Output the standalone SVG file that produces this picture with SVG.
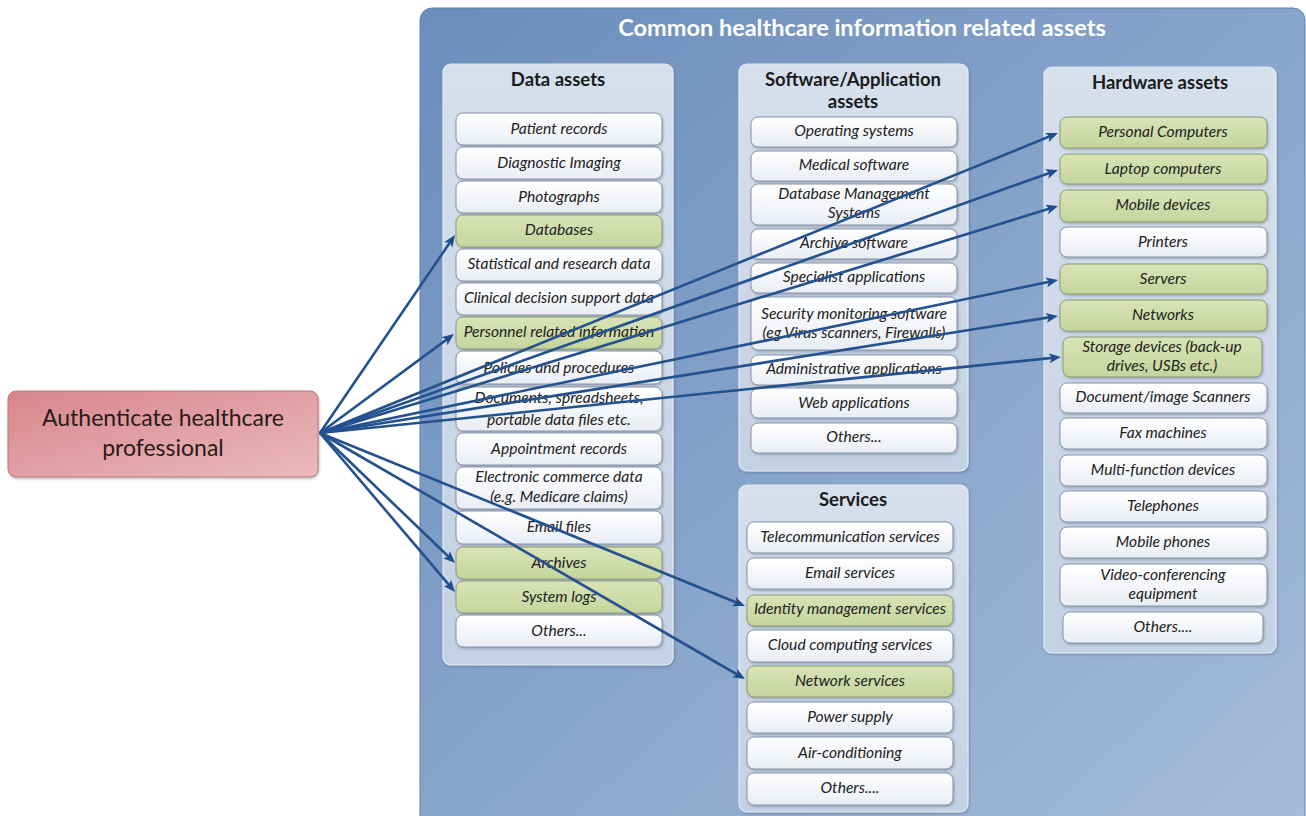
<svg xmlns="http://www.w3.org/2000/svg" width="1306" height="816" viewBox="0 0 1306 816">
  <defs>
    <linearGradient id="gOuter" x1="0" y1="0" x2="1" y2="1">
      <stop offset="0" stop-color="#6a8dbc"/>
      <stop offset="1" stop-color="#a6bcd9"/>
    </linearGradient>
    <linearGradient id="gPanel" x1="0" y1="0" x2="0" y2="1">
      <stop offset="0" stop-color="#d6e0ed"/>
      <stop offset="1" stop-color="#c3d1e4"/>
    </linearGradient>
    <linearGradient id="gItem" x1="0" y1="0" x2="0" y2="1">
      <stop offset="0" stop-color="#ffffff"/>
      <stop offset="1" stop-color="#e9edf4"/>
    </linearGradient>
    <linearGradient id="gGreen" x1="0" y1="0" x2="0" y2="1">
      <stop offset="0" stop-color="#d9e3b6"/>
      <stop offset="1" stop-color="#c6d59d"/>
    </linearGradient>
    <linearGradient id="gSource" x1="0" y1="0" x2="1" y2="1">
      <stop offset="0" stop-color="#d7868b"/>
      <stop offset="1" stop-color="#ebbabd"/>
    </linearGradient>
    <filter id="shadow" x="-10%" y="-20%" width="120%" height="150%">
      <feDropShadow dx="1" dy="1.5" stdDeviation="1" flood-color="#3a4a60" flood-opacity="0.35"/>
    </filter>
    <marker id="arrow" viewBox="0 0 12 10" refX="6" refY="5" markerWidth="12" markerHeight="10" markerUnits="userSpaceOnUse" orient="auto">
      <path d="M0,0 L12,5 L0,10 L3,5 Z" fill="#1f4d8a"/>
    </marker>
  </defs>
  <style>
    .outer { fill: url(#gOuter); stroke: #5f80ad; stroke-width: 1; }
    .panel { fill: url(#gPanel); stroke: #e4ebf4; stroke-width: 1.2; filter: url(#shadow); }
    .item { fill: url(#gItem); stroke: #8593a6; stroke-width: 1; filter: url(#shadow); }
    .hit { fill: url(#gGreen); stroke: #8c9a73; stroke-width: 1; filter: url(#shadow); }
    .txt { font-family: Lato, "Open Sans", sans-serif; font-style: italic; font-size: 15.6px; fill: #222222; text-anchor: middle; }
    .ptitle { font-family: Lato, "Open Sans", sans-serif; font-weight: bold; font-size: 18.5px; fill: #1b1b1b; text-anchor: middle; }
    .title { font-family: Lato, "Open Sans", sans-serif; font-weight: bold; font-size: 23.5px; fill: #ffffff; text-anchor: middle; }
    .src { fill: url(#gSource); stroke: #b87a7e; stroke-width: 1; filter: url(#shadow); }
    .srctxt { font-family: Lato, "Open Sans", sans-serif; font-size: 23px; fill: #2a1a1a; text-anchor: middle; }
    .conn { stroke: #24528f; stroke-width: 2.6; fill: none; marker-end: url(#arrow); }
  </style>

  <!-- container of all asset categories -->
  <g id="assets-container">
    <rect class="outer" x="420" y="8" width="885" height="820" rx="12"/>
    <text class="title" x="862" y="36">Common healthcare information related assets</text>
  </g>

  <!-- source node -->
  <g id="authenticate">
    <rect class="src" x="8" y="391" width="310" height="86" rx="8"/>
    <text class="srctxt" x="163" y="426">Authenticate healthcare</text>
    <text class="srctxt" x="163" y="456">professional</text>
  </g>

  <!-- data assets -->
  <g id="data-assets">
    <rect class="panel" x="443" y="64" width="230" height="601" rx="8"/>
    <text class="ptitle" x="558" y="86">Data assets</text>
    <g id="d-patient"><rect class="item" x="456" y="113" width="206" height="32" rx="7"/><text class="txt" x="559" y="134">Patient records</text></g>
    <g id="d-imaging"><rect class="item" x="456" y="147" width="206" height="32" rx="7"/><text class="txt" x="559" y="168">Diagnostic Imaging</text></g>
    <g id="d-photos"><rect class="item" x="456" y="181" width="206" height="32" rx="7"/><text class="txt" x="559" y="202">Photographs</text></g>
    <g id="d-databases"><rect class="hit" x="456" y="215" width="206" height="32" rx="7"/><text class="txt" x="559" y="235">Databases</text></g>
    <g id="d-stats"><rect class="item" x="456" y="249" width="206" height="32" rx="7"/><text class="txt" x="559" y="269">Statistical and research data</text></g>
    <g id="d-clinical"><rect class="item" x="456" y="283" width="206" height="32" rx="7"/><text class="txt" x="559" y="303">Clinical decision support data</text></g>
    <g id="d-personnel"><rect class="hit" x="456" y="317" width="206" height="32" rx="7"/><text class="txt" x="559" y="337">Personnel related information</text></g>
    <g id="d-policies"><rect class="item" x="456" y="351" width="206" height="33" rx="7"/><text class="txt" x="559" y="373">Policies and procedures</text></g>
    <g id="d-documents"><rect class="item" x="456" y="387" width="206" height="44" rx="7"/><text class="txt" x="559" y="403">Documents, spreadsheets,</text><text class="txt" x="559" y="425">portable data files etc.</text></g>
    <g id="d-appointments"><rect class="item" x="456" y="433" width="206" height="32" rx="7"/><text class="txt" x="559" y="454">Appointment records</text></g>
    <g id="d-ecommerce"><rect class="item" x="456" y="467" width="206" height="42" rx="7"/><text class="txt" x="559" y="482">Electronic commerce data</text><text class="txt" x="559" y="502">(e.g. Medicare claims)</text></g>
    <g id="d-email"><rect class="item" x="456" y="511" width="206" height="33" rx="7"/><text class="txt" x="559" y="532">Email files</text></g>
    <g id="d-archives"><rect class="hit" x="456" y="547" width="206" height="32" rx="7"/><text class="txt" x="559" y="568">Archives</text></g>
    <g id="d-syslogs"><rect class="hit" x="456" y="581" width="206" height="32" rx="7"/><text class="txt" x="559" y="602">System logs</text></g>
    <g id="d-others"><rect class="item" x="456" y="615" width="206" height="32" rx="7"/><text class="txt" x="559" y="636">Others...</text></g>
  </g>

  <!-- software / application assets -->
  <g id="software-assets">
    <rect class="panel" x="739" y="64" width="229" height="407" rx="8"/>
    <text class="ptitle" x="853" y="86">Software/Application</text>
    <text class="ptitle" x="853" y="108">assets</text>
    <g id="s-os"><rect class="item" x="751" y="117" width="206" height="30" rx="7"/><text class="txt" x="854" y="136">Operating systems</text></g>
    <g id="s-medical"><rect class="item" x="751" y="151" width="206" height="30" rx="7"/><text class="txt" x="854" y="170">Medical software</text></g>
    <g id="s-dbms"><rect class="item" x="751" y="184" width="206" height="41" rx="7"/><text class="txt" x="854" y="199">Database Management</text><text class="txt" x="854" y="218">Systems</text></g>
    <g id="s-archive"><rect class="item" x="751" y="229" width="206" height="30" rx="7"/><text class="txt" x="854" y="248">Archive software</text></g>
    <g id="s-specialist"><rect class="item" x="751" y="263" width="206" height="30" rx="7"/><text class="txt" x="854" y="282">Specialist applications</text></g>
    <g id="s-security"><rect class="item" x="751" y="297" width="206" height="53" rx="7"/><text class="txt" x="854" y="319">Security monitoring  software</text><text class="txt" x="854" y="338">(eg Virus scanners, Firewalls)</text></g>
    <g id="s-admin"><rect class="item" x="751" y="355" width="206" height="30" rx="7"/><text class="txt" x="854" y="374">Administrative applications</text></g>
    <g id="s-web"><rect class="item" x="751" y="388" width="206" height="30" rx="7"/><text class="txt" x="854" y="408">Web applications</text></g>
    <g id="s-others"><rect class="item" x="751" y="423" width="206" height="30" rx="7"/><text class="txt" x="854" y="442">Others...</text></g>
  </g>

  <!-- services -->
  <g id="services">
    <rect class="panel" x="739" y="485" width="229" height="327" rx="8"/>
    <text class="ptitle" x="853" y="506">Services</text>
    <g id="v-telecom"><rect class="item" x="747" y="522" width="206" height="31" rx="7"/><text class="txt" x="850" y="542">Telecommunication services</text></g>
    <g id="v-email"><rect class="item" x="747" y="558" width="206" height="31" rx="7"/><text class="txt" x="850" y="578">Email services</text></g>
    <g id="v-identity"><rect class="hit" x="747" y="595" width="206" height="31" rx="7"/><text class="txt" x="850" y="614">Identity management services</text></g>
    <g id="v-cloud"><rect class="item" x="747" y="630" width="206" height="32" rx="7"/><text class="txt" x="850" y="650">Cloud computing services</text></g>
    <g id="v-network"><rect class="hit" x="747" y="666" width="206" height="31" rx="7"/><text class="txt" x="850" y="686">Network services</text></g>
    <g id="v-power"><rect class="item" x="747" y="702" width="206" height="31" rx="7"/><text class="txt" x="850" y="722">Power supply</text></g>
    <g id="v-aircon"><rect class="item" x="747" y="737" width="206" height="32" rx="7"/><text class="txt" x="850" y="758">Air-conditioning</text></g>
    <g id="v-others"><rect class="item" x="747" y="773" width="206" height="32" rx="7"/><text class="txt" x="850" y="793">Others....</text></g>
  </g>

  <!-- hardware assets -->
  <g id="hardware-assets">
    <rect class="panel" x="1044" y="67" width="232" height="586" rx="8"/>
    <text class="ptitle" x="1160" y="89">Hardware assets</text>
    <g id="h-pc"><rect class="hit" x="1060" y="117" width="207" height="31" rx="7"/><text class="txt" x="1163" y="137">Personal Computers</text></g>
    <g id="h-laptop"><rect class="hit" x="1060" y="154" width="207" height="30" rx="7"/><text class="txt" x="1163" y="174">Laptop computers</text></g>
    <g id="h-mobile"><rect class="hit" x="1060" y="190" width="207" height="32" rx="7"/><text class="txt" x="1163" y="210">Mobile devices</text></g>
    <g id="h-printers"><rect class="item" x="1060" y="227" width="207" height="30" rx="7"/><text class="txt" x="1163" y="247">Printers</text></g>
    <g id="h-servers"><rect class="hit" x="1060" y="264" width="207" height="30" rx="7"/><text class="txt" x="1163" y="284">Servers</text></g>
    <g id="h-networks"><rect class="hit" x="1060" y="300" width="207" height="31" rx="7"/><text class="txt" x="1163" y="320">Networks</text></g>
    <g id="h-storage"><rect class="hit" x="1063" y="337" width="199" height="40" rx="7"/><text class="txt" x="1162" y="352">Storage devices (back-up</text><text class="txt" x="1162" y="371">drives, USBs etc.)</text></g>
    <g id="h-scanners"><rect class="item" x="1060" y="383" width="207" height="30" rx="7"/><text class="txt" x="1163" y="402">Document/image Scanners</text></g>
    <g id="h-fax"><rect class="item" x="1060" y="418" width="207" height="31" rx="7"/><text class="txt" x="1163" y="438">Fax machines</text></g>
    <g id="h-mfd"><rect class="item" x="1060" y="455" width="207" height="31" rx="7"/><text class="txt" x="1163" y="475">Multi-function devices</text></g>
    <g id="h-telephones"><rect class="item" x="1060" y="491" width="207" height="31" rx="7"/><text class="txt" x="1163" y="511">Telephones</text></g>
    <g id="h-mobilephones"><rect class="item" x="1060" y="527" width="207" height="31" rx="7"/><text class="txt" x="1163" y="547">Mobile phones</text></g>
    <g id="h-video"><rect class="item" x="1060" y="564" width="207" height="42" rx="7"/><text class="txt" x="1163" y="580">Video-conferencing</text><text class="txt" x="1163" y="599">equipment</text></g>
    <g id="h-others"><rect class="item" x="1063" y="612" width="200" height="31" rx="7"/><text class="txt" x="1163" y="632">Others....</text></g>
  </g>

  <!-- connectors from the source node -->
  <g id="connectors">
    <line class="conn" x1="320" y1="433" x2="451.6" y2="240.0"/>
    <line class="conn" x1="320" y1="433" x2="449.2" y2="337.6"/>
    <line class="conn" x1="320" y1="433" x2="450.7" y2="558.8"/>
    <line class="conn" x1="320" y1="433" x2="451.1" y2="587.4"/>
    <line class="conn" x1="320" y1="433" x2="1052.4" y2="135.3"/>
    <line class="conn" x1="320" y1="433" x2="1052.3" y2="172.0"/>
    <line class="conn" x1="320" y1="433" x2="1052.3" y2="207.8"/>
    <line class="conn" x1="320" y1="433" x2="1052.1" y2="281.2"/>
    <line class="conn" x1="320" y1="433" x2="1052.1" y2="316.9"/>
    <line class="conn" x1="320" y1="433" x2="1055.0" y2="357.6"/>
    <line class="conn" x1="320" y1="433" x2="739.4" y2="603.7"/>
    <line class="conn" x1="320" y1="433" x2="739.8" y2="676.0"/>
  </g>
</svg>
